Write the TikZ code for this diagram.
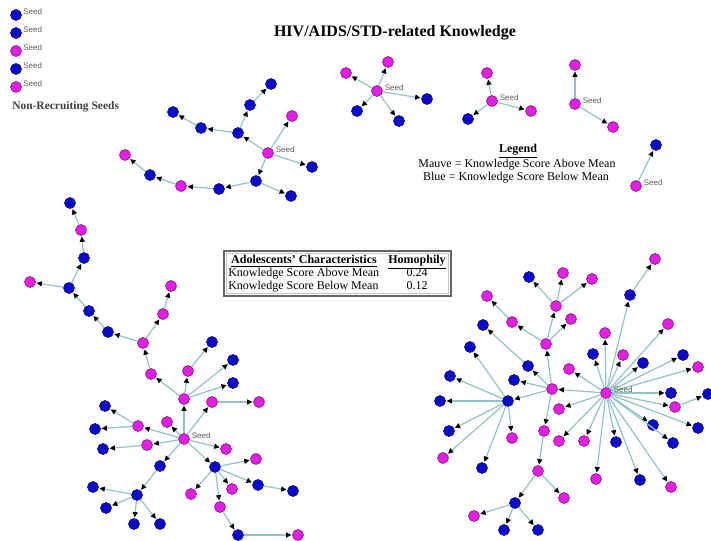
\documentclass[tikz,border=0pt]{standalone}
\usepackage{fontspec}
\setmainfont{Liberation Serif}
\setsansfont{Liberation Sans}
\usetikzlibrary{arrows.meta}
\definecolor{nodeblue}{RGB}{10,10,205}
\definecolor{nodemauve}{RGB}{228,30,228}
\definecolor{edgecol}{RGB}{145,195,200}
\definecolor{taggray}{RGB}{90,90,90}
\begin{document}
\begin{tikzpicture}[x=0.75pt,y=-0.75pt,
  vertex/.style={circle, minimum size=8.2pt, inner sep=0pt, line width=0.5pt},
  bl/.style={vertex, fill=nodeblue, draw=nodeblue!65!black},
  mv/.style={vertex, fill=nodemauve, draw=nodemauve!60!black},
  link/.style={draw=edgecol, line width=0.9pt, -{Triangle[color=black,length=4pt,width=3.8pt]}, shorten >=0.6pt},
  seedtag/.style={font=\sffamily\fontsize{6}{7}\selectfont, text=taggray, anchor=west, inner sep=0pt},
  legendtxt/.style={font=\fontsize{9}{10}\selectfont, anchor=base, inner sep=0pt},
  tabletxt/.style={font=\fontsize{9}{10}\selectfont, anchor=base, inner sep=0pt},
]
% canvas
\useasboundingbox[fill=white] (0,0) rectangle (711,541);

% ---------- titles and legend ----------
\node[font=\bfseries\fontsize{12}{14}\selectfont, anchor=base, inner sep=0pt] (title) at (395,37) {HIV/AIDS/STD-related Knowledge};
\node[legendtxt, font=\bfseries\fontsize{9}{10}\selectfont] (leghead) at (518,153) {\underline{Legend}};
\node[legendtxt] (legmauve) at (517,168) {Mauve = Knowledge Score Above Mean};
\node[legendtxt] (legblue) at (516,181) {Blue = Knowledge Score Below Mean};

% ---------- non-recruiting seeds ----------
\node[bl] (nr1) at (16,15) {};
\node[bl] (nr2) at (16,33) {};
\node[mv] (nr3) at (16,51) {};
\node[bl] (nr4) at (16,69) {};
\node[mv] (nr5) at (16,87) {};
\foreach \n in {nr1,nr2,nr3,nr4,nr5}
  \node[seedtag] (\n t) at ([xshift=1.0pt,yshift=2.2pt]\n.east) {Seed};
\node[font=\bfseries\fontsize{8.6}{10}\selectfont, text=black!75, anchor=base west, inner sep=0pt] (nrtext) at (12,110) {Non-Recruiting Seeds};

% ---------- homophily table ----------
\draw[gray!80!black, line width=0.9pt] (224,251) rectangle (451,296);
\draw[gray!45, line width=0.5pt] (226.5,253.5) rectangle (448.5,293.5);
\node[tabletxt, font=\bfseries\fontsize{9}{10}\selectfont] (th1) at (304,264) {\underline{Adolescents' Characteristics}};
\node[tabletxt, font=\bfseries\fontsize{9}{10}\selectfont] (th2) at (417,264) {\underline{Homophily}};
\node[tabletxt, anchor=base west] (r1a) at (228,277) {Knowledge Score Above Mean};
\node[tabletxt] (r1b) at (417,277) {0.24};
\node[tabletxt, anchor=base west] (r2a) at (228,290) {Knowledge Score Below Mean};
\node[tabletxt] (r2b) at (417,290) {0.12};

% ---------- network A (top left) ----------
\node[mv] (a0) at (268,153) {};
\node[mv] (a1) at (292,116) {};
\node[bl] (a2) at (312,167) {};
\node[bl] (a3) at (238,133) {};
\node[bl] (a4) at (250,105) {};
\node[bl] (a5) at (271,84) {};
\node[bl] (a6) at (201,128) {};
\node[bl] (a7) at (173,112) {};
\node[bl] (a8) at (256,181) {};
\node[bl] (a9) at (291,196) {};
\node[bl] (a10) at (219,189) {};
\node[mv] (a11) at (181,186) {};
\node[bl] (a12) at (150,175) {};
\node[mv] (a13) at (125,155) {};
\foreach \s/\t in {a0/a1,a0/a2,a0/a3,a3/a4,a4/a5,a3/a6,a6/a7,a0/a8,a8/a9,a8/a10,a10/a11,a11/a12,a12/a13}
  \draw[link] (\s) -- (\t);

% ---------- networks B, C, D, E (top middle / right) ----------
\node[mv] (b0) at (377,91) {};
\node[mv] (b1) at (388,62) {};
\node[mv] (b2) at (346,73) {};
\node[bl] (b3) at (427,99) {};
\node[bl] (b4) at (357,111) {};
\node[bl] (b5) at (399,121) {};
\node[mv] (c0) at (492,101) {};
\node[mv] (c1) at (487,73) {};
\node[mv] (c2) at (531,111) {};
\node[bl] (c3) at (468,119) {};
\node[mv] (d0) at (575,104) {};
\node[mv] (d1) at (575,65) {};
\node[mv] (d2) at (613,127) {};
\node[mv] (e0) at (636,186) {};
\node[bl] (e1) at (656,145) {};
\foreach \s/\t in {b0/b1,b0/b2,b0/b3,b0/b4,b0/b5,c0/c1,c0/c2,c0/c3,d0/d1,d0/d2,e0/e1}
  \draw[link] (\s) -- (\t);

% ---------- network F (bottom left) ----------
\node[mv] (f0) at (184,439) {};
\node[mv] (f1) at (184,399) {};
\node[mv] (f2) at (151,374) {};
\node[mv] (f3) at (143,343) {};
\node[bl] (f4) at (108,332) {};
\node[bl] (f5) at (89,311) {};
\node[bl] (f6) at (69,288) {};
\node[mv] (f7) at (30,282) {};
\node[bl] (f8) at (84,258) {};
\node[mv] (f9) at (81,230) {};
\node[bl] (f10) at (70,203) {};
\node[mv] (f11) at (163,314) {};
\node[mv] (f12) at (171,286) {};
\node[mv] (f13) at (188,371) {};
\node[bl] (f14) at (212,342) {};
\node[bl] (f15) at (233,360) {};
\node[bl] (f16) at (233,383) {};
\node[mv] (f17) at (212,402) {};
\node[mv] (f18) at (259,402) {};
\node[mv] (f19) at (167,422) {};
\node[mv] (f20) at (138,426) {};
\node[bl] (f21) at (105,406) {};
\node[bl] (f22) at (95,429) {};
\node[mv] (f23) at (147,445) {};
\node[bl] (f24) at (103,449) {};
\node[mv] (f25) at (226,449) {};
\node[bl] (f26) at (160,466) {};
\node[bl] (f27) at (137,495) {};
\node[bl] (f28) at (93,487) {};
\node[bl] (f29) at (106,508) {};
\node[bl] (f30) at (134,524) {};
\node[bl] (f31) at (160,524) {};
\node[bl] (f32) at (215,467) {};
\node[mv] (f33) at (256,459) {};
\node[mv] (f34) at (232,489) {};
\node[mv] (f35) at (191,494) {};
\node[bl] (f36) at (258,485) {};
\node[bl] (f37) at (293,491) {};
\node[mv] (f38) at (220,507) {};
\node[bl] (f39) at (238,535) {};
\node[mv] (f40) at (298,535) {};
\foreach \s/\t in {f0/f1,f1/f2,f2/f3,f3/f4,f4/f5,f5/f6,f6/f7,f6/f8,f8/f9,f9/f10,f3/f11,f11/f12,
    f1/f13,f13/f14,f1/f15,f1/f16,f0/f17,f17/f18,f0/f19,f0/f20,f20/f21,f20/f22,f0/f23,f23/f24,
    f0/f25,f0/f26,f26/f27,f27/f28,f27/f29,f27/f30,f27/f31,f0/f32,f32/f33,f32/f34,f32/f35,
    f32/f36,f36/f37,f32/f38,f38/f39,f39/f40}
  \draw[link] (\s) -- (\t);

% ---------- network G (bottom right) ----------
\node[mv] (g0) at (606,393) {};
\node[bl] (g1) at (630,295) {};
\node[mv] (g2) at (655,259) {};
\node[mv] (g3) at (668,324) {};
\node[bl] (g4) at (643,363) {};
\node[bl] (g5) at (683,355) {};
\node[mv] (g6) at (698,367) {};
\node[bl] (g7) at (671,393) {};
\node[mv] (g8) at (675,407) {};
\node[bl] (g9) at (708,394) {};
\node[bl] (g10) at (698,428) {};
\node[bl] (g11) at (653,425) {};
\node[bl] (g12) at (673,443) {};
\node[mv] (g13) at (623,355) {};
\node[bl] (g14) at (593,354) {};
\node[mv] (g15) at (605,333) {};
\node[mv] (g16) at (569,369) {};
\node[mv] (g17) at (552,389) {};
\node[mv] (g18) at (546,344) {};
\node[mv] (g19) at (556,306) {};
\node[mv] (g20) at (571,319) {};
\node[mv] (g21) at (563,273) {};
\node[mv] (g22) at (592,279) {};
\node[bl] (g23) at (529,277) {};
\node[mv] (g24) at (512,322) {};
\node[mv] (g25) at (487,296) {};
\node[bl] (g26) at (528,366) {};
\node[bl] (g27) at (483,325) {};
\node[bl] (g28) at (514,380) {};
\node[bl] (g29) at (508,401) {};
\node[bl] (g30) at (470,347) {};
\node[bl] (g31) at (450,376) {};
\node[bl] (g32) at (440,401) {};
\node[bl] (g33) at (449,431) {};
\node[mv] (g34) at (512,438) {};
\node[mv] (g35) at (443,458) {};
\node[bl] (g36) at (482,468) {};
\node[mv] (g37) at (559,409) {};
\node[mv] (g38) at (544,431) {};
\node[mv] (g39) at (538,471) {};
\node[mv] (g40) at (564,498) {};
\node[bl] (g41) at (515,503) {};
\node[mv] (g42) at (474,516) {};
\node[bl] (g43) at (504,530) {};
\node[bl] (g44) at (538,530) {};
\node[mv] (g45) at (559,441) {};
\node[mv] (g46) at (584,441) {};
\node[bl] (g47) at (616,442) {};
\node[mv] (g48) at (596,479) {};
\node[bl] (g49) at (640,480) {};
\node[mv] (g50) at (671,487) {};
\foreach \s/\t in {g0/g1,g1/g2,g0/g3,g0/g4,g0/g5,g0/g6,g0/g7,g0/g8,g8/g9,g0/g10,g0/g11,g0/g12,
    g0/g13,g0/g14,g0/g15,g0/g16,g0/g17,g17/g18,g18/g19,g18/g20,g19/g21,g19/g22,g19/g23,
    g18/g24,g24/g25,g17/g26,g26/g27,g17/g28,g17/g29,g29/g30,g29/g31,g29/g32,g29/g33,
    g29/g34,g29/g35,g29/g36,g0/g37,g17/g38,g38/g39,g39/g40,g39/g41,g41/g42,g41/g43,
    g41/g44,g0/g45,g0/g46,g0/g47,g0/g48,g0/g49,g0/g50}
  \draw[link] (\s) -- (\t);

% ---------- seed labels of recruiting networks ----------
\foreach \n in {a0,b0,c0,d0,e0,f0,g0}
  \node[seedtag] (\n t) at ([xshift=1.3pt,yshift=2.2pt]\n.east) {Seed};
\end{tikzpicture}
\end{document}
